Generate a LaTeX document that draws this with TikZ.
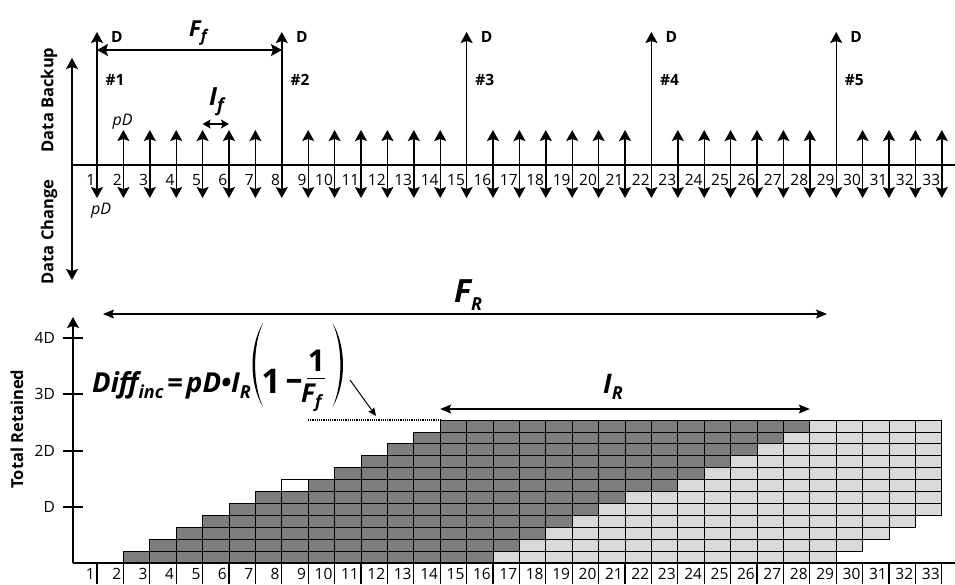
\documentclass[tikz,border=0pt]{standalone}
\usepackage{fontspec}
\setmainfont{Open Sans}
\usetikzlibrary{arrows.meta}
\definecolor{cdark}{RGB}{125,125,125}
\definecolor{clight}{RGB}{217,217,217}
\newcommand{\fs}[1]{\fontsize{#1}{#1}\selectfont}
\begin{document}
\begin{tikzpicture}[x=1pt,y=-1pt,
  >={Stealth[length=11pt,width=12pt,inset=2pt]},
  ax/.style={line width=1.2pt},
  darr/.style={line width=1.4pt,<->},
  thinarr/.style={line width=1.1pt,<->,>={Stealth[length=11pt,width=9pt,inset=2pt]}},
  num/.style={font=\fs{15.5}, anchor=east, inner sep=0pt},
  lbl/.style={font=\fs{15.5}\bfseries, inner sep=0pt},
  side/.style={font=\fs{16.5}\bfseries, inner sep=0pt, rotate=90},
  big/.style={inner sep=0pt, anchor=base west},
  cell/.style={draw=black, line width=0.8pt},
  darkcell/.style={cell, fill=cdark},
  lightcell/.style={cell, fill=clight}
]
\useasboundingbox (0,0) rectangle (955,584);

% ---------- top part ----------
\draw[ax] (72,165) -- (955,165);
\draw[darr] (72,280) -- (72,58);
\node[side] (dbk) at (49,100) {Data Backup};
\node[side] (dch) at (49,232) {Data Change};

\foreach \i in {1,...,33}{
  \pgfmathsetmacro\x{97+26.4*(\i-1)}
  \node[num] (t\i) at (\x-1.5,180) {\i};
}
\foreach \i in {2,...,7,9,10,...,14,16,17,...,21,23,24,...,28,30,31,32,33}{
  \pgfmathsetmacro\x{97+26.4*(\i-1)}
  \draw[darr] (\x,198) -- (\x,130);
}
\foreach \i/\k in {1/1,8/2,15/3,22/4,29/5}{
  \pgfmathsetmacro\x{97+26.4*(\i-1)}
  \draw[darr] (\x,198) -- (\x,32);
  \node[lbl,anchor=west] (d\k) at (\x+14,37) {D};
  \node[lbl,anchor=west] (h\k) at (\x+8.5,80) {\#\k};
}
\node[inner sep=0pt,font=\fs{16}\itshape] (pd1) at (122.5,122) {pD};
\node[inner sep=0pt,font=\fs{16}\itshape] (pd2) at (101,211) {pD};

\draw[darr] (97,50) -- (282,50);
\node[big,font=\fs{22}\bfseries\itshape] (ff) at (189,36) {F\raisebox{-5pt}{\fs{16}f}};
\draw[line width=1.3pt,<->,>={Stealth[length=8pt,width=9pt,inset=1.5pt]}] (202.6,124) -- (229,124);
\node[big,font=\fs{25}\bfseries\itshape] (if) at (209,105) {I\raisebox{-6pt}{\fs{18}f}};

% ---------- bottom part ----------
\draw[thinarr] (103,314) -- (827,314);
\node[big,font=\fs{32}\bfseries\itshape] (fr) at (454,302) {F\raisebox{-8pt}{\fs{18}R}};

% cells
\foreach \r in {1,...,12}{
  \pgfmathtruncatemacro\ds{\r<7 ? \r+1 : \r+2}
  \pgfmathtruncatemacro\ls{\r<7 ? \r+15 : \r+16}
  \pgfmathtruncatemacro\de{\ls-1}
  \pgfmathtruncatemacro\lee{min(\r+28,33)-1}
  \pgfmathsetmacro\yt{563-\r*11.917}
  \pgfmathsetmacro\yb{563-(\r-1)*11.917}
  \foreach \j in {\ds,...,\de}{
    \draw[darkcell] ({97+26.4*(\j-1)},\yt) rectangle ({97+26.4*\j},\yb);
  }
  \foreach \j in {\ls,...,\lee}{
    \draw[lightcell] ({97+26.4*(\j-1)},\yt) rectangle ({97+26.4*\j},\yb);
  }
}
\draw[cell,fill=white] (281.8,{563-7*11.917}) rectangle (308.2,{563-6*11.917});

% axes
\draw[ax] (73,563) -- (955,563);
\draw[ax,->] (73,563) -- (73,317);
\foreach \y/\t/\n in {338/4D/a,394/3D/b,451/2D/c,507/D/d}{
  \draw[ax] (63,\y) -- (83,\y);
  \node[num,font=\fs{15.5}] (y\n) at (55,\y) {\t};
}
\node[side] (tr) at (17,429) {Total Retained};
\foreach \i in {1,...,33}{
  \pgfmathsetmacro\x{97+26.4*(\i-1)}
  \draw[ax] (\x,563) -- (\x,584);
  \node[num] (b\i) at (\x-2,574) {\i};
}

% I_R and dotted line
\draw[densely dotted,line width=1.2pt] (308,420) -- (441,420);
\draw[thinarr] (440.2,409) -- (809.8,409);
\node[big,font=\fs{27}\bfseries\itshape] (ir) at (603,393) {I\raisebox{-6pt}{\fs{18}R}};

% formula
\node[big,font=\fs{27.5}\bfseries\itshape] (f1) at (92,392)
  {Diff\raisebox{-6pt}{\fs{18}inc}\hspace{4pt}{\upshape=}\hspace{3pt}pD\textbullet I\raisebox{-6pt}{\fs{18}R}};
\fill (263,323) .. controls (249,346) and (249,384) .. (263,407)
      .. controls (252.5,384) and (252.5,346) .. cycle;
\fill (332.5,323) .. controls (346.5,346) and (346.5,384) .. (332.5,407)
      .. controls (343,384) and (343,346) .. cycle;
\node[inner sep=0pt,anchor=base,font=\fs{34}\bfseries] (one) at (271,393) {1};
\node[inner sep=0pt,anchor=base,font=\fs{34}\bfseries] (minus) at (294,390) {–};
\node[inner sep=0pt,anchor=base,font=\fs{30}\bfseries] (onef) at (316.5,371.7) {1};
\draw[line width=1.5pt] (306.5,378.3) -- (325,378.3);
\node[big,font=\fs{26}\bfseries\itshape] (fff) at (301,402) {F\raisebox{-5pt}{\fs{17}f}};
\draw[line width=1pt,->,>={Stealth[length=8pt,width=7pt,inset=1pt]}] (350,380) -- (376,416);
\end{tikzpicture}
\end{document}
